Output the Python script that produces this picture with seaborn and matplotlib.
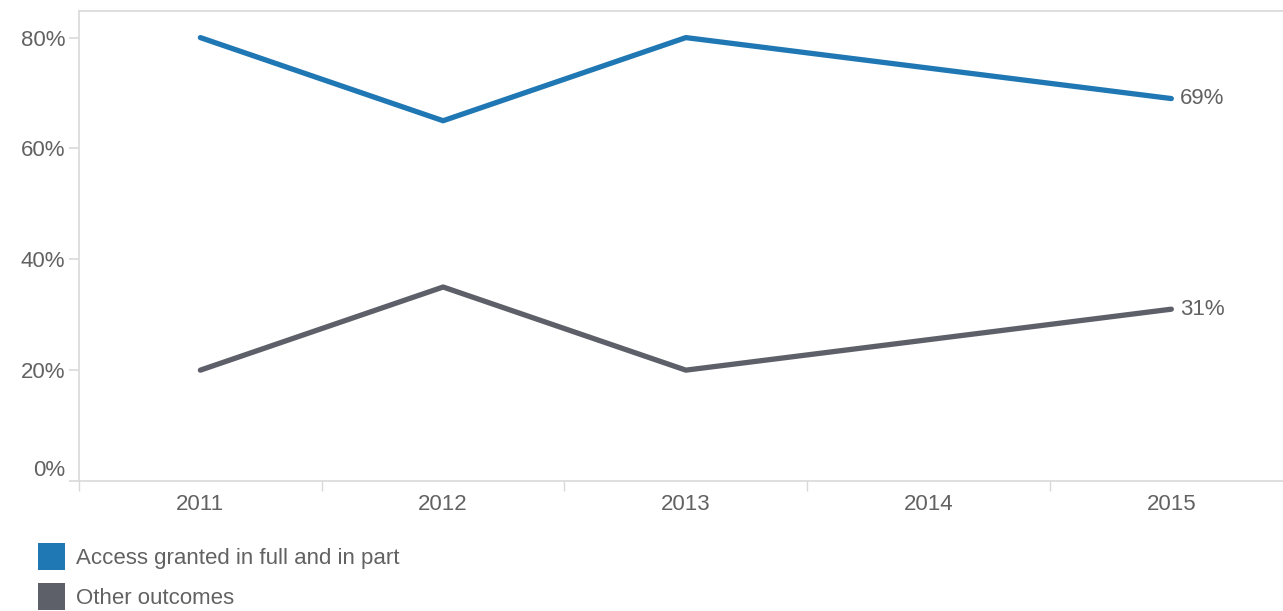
import numpy as np
import pandas as pd
import matplotlib
matplotlib.use("Agg")
import matplotlib.pyplot as plt
from matplotlib.patches import Patch
from matplotlib.ticker import FixedLocator, FuncFormatter
import seaborn as sns

# Values (no point drawn for 2014)
years = [2011, 2012, 2013, 2014, 2015]
access_granted = [80, 65, 80, np.nan, 69]
other_outcomes = [20, 35, 20, np.nan, 31]
series_names = ["Access granted in full and in part", "Other outcomes"]
y_ticks = [0, 20, 40, 60, 80]

colors = {series_names[0]: "#1f77b4", series_names[1]: "#5d6068"}
text_col = "#626262"
grid_col = "#d9d9d9"
fs = 16

df = pd.DataFrame({"year": years,
                   series_names[0]: access_granted,
                   series_names[1]: other_outcomes})
long_df = df.melt(id_vars="year", var_name="series", value_name="pct").dropna()

sns.set_theme(style="white")
plt.rcParams["font.family"] = ["Liberation Sans", "DejaVu Sans"]

fig = plt.figure(figsize=(12.83, 6.11), dpi=100)
ax = fig.add_axes([79 / 1283, 1 - 481 / 611, 1 - 79 / 1283, (481 - 11) / 611])

sns.lineplot(data=long_df, x="year", y="pct", hue="series", palette=colors,
             linewidth=3.8, legend=False, ax=ax,
             solid_capstyle="round", solid_joinstyle="round")

ax.set_xlim(years[0] - 0.5, years[-1] + 0.46)
ax.set_ylim(0, 84.8)

# category labels centred, tick marks at category boundaries
ax.xaxis.set_major_locator(FixedLocator(years))
ax.set_xticklabels([str(y) for y in years])
ax.xaxis.set_minor_locator(FixedLocator([y - 0.5 for y in years]))
ax.tick_params(axis="x", which="major", length=0, pad=9, labelsize=fs, colors=text_col)
ax.tick_params(axis="x", which="minor", length=7, width=1, color=grid_col, bottom=True)

ax.set_yticks(y_ticks)
ax.yaxis.set_major_formatter(FuncFormatter(lambda v, p: f"{v:.0f}%"))
ax.tick_params(axis="y", length=7, width=1.2, color=grid_col, pad=3, labelsize=fs,
               labelcolor=text_col, left=True)
for lab in ax.get_yticklabels():
    if lab.get_text() == "0%":
        lab.set_verticalalignment("bottom")

ax.set_xlabel("")
ax.set_ylabel("")
for side in ["left", "top", "bottom"]:
    ax.spines[side].set_color(grid_col)
    ax.spines[side].set_linewidth(1.2)
ax.spines["right"].set_visible(False)

# end-of-line value labels
for name, vals in zip(series_names, [access_granted, other_outcomes]):
    ax.annotate(f"{vals[-1]:.0f}%", xy=(years[-1], vals[-1]), xytext=(6, 0),
                textcoords="offset points", va="center", ha="left",
                fontsize=fs, color=text_col)

handles = [Patch(facecolor=colors[n], edgecolor="none", label=n) for n in series_names]
fig.legend(handles=handles, loc="upper left", bbox_to_anchor=(38 / 1283, 1 - 543 / 611),
           frameon=False, fontsize=fs, handlelength=1.22, handleheight=1.5,
           handletextpad=0.5, labelspacing=0.59, borderpad=0, borderaxespad=0,
           labelcolor=text_col)

fig.savefig("out.png", dpi=100)
